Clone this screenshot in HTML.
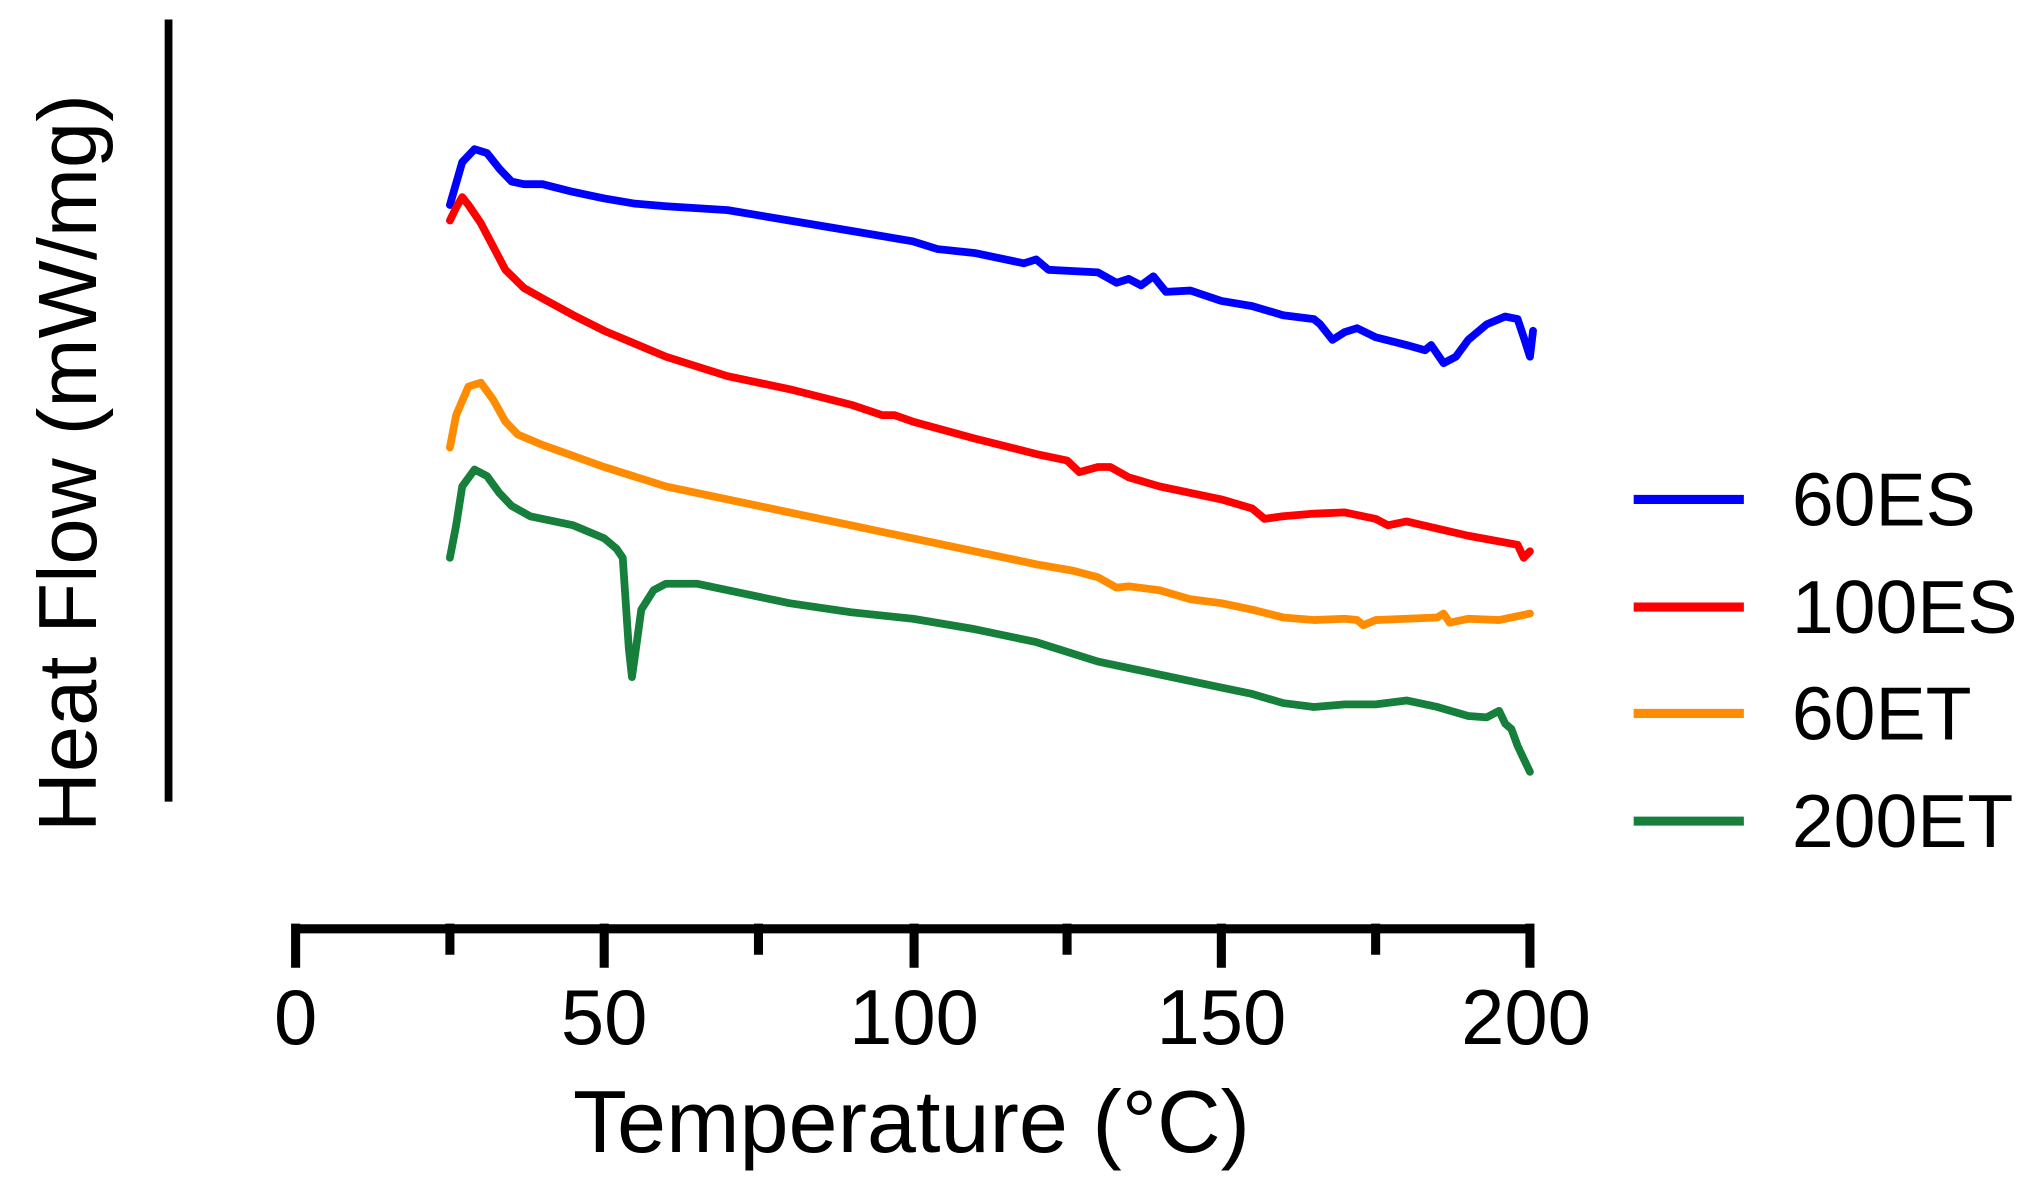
<!DOCTYPE html>
<html><head><meta charset="utf-8"><style>
html,body{margin:0;padding:0;background:#fff;}
svg{display:block;}
text{font-family:"Liberation Sans",Arial,sans-serif;fill:#000;}
</style></head><body>
<svg width="2033" height="1196" viewBox="0 0 1568 922" preserveAspectRatio="none" xmlns="http://www.w3.org/2000/svg">
<rect width="1568" height="922" fill="#fff"/>
<line x1="130" y1="15" x2="130" y2="618" stroke="#000" stroke-width="6"/>
<line x1="228" y1="716" x2="1180" y2="716" stroke="#000" stroke-width="7"/>
<g stroke="#000" stroke-width="7">
<line x1="228" y1="712" x2="228" y2="746"/><line x1="466" y1="712" x2="466" y2="746"/><line x1="705" y1="712" x2="705" y2="746"/><line x1="942" y1="712" x2="942" y2="746"/><line x1="1180" y1="712" x2="1180" y2="746"/>
<line x1="347" y1="712" x2="347" y2="736"/><line x1="585" y1="712" x2="585" y2="736"/><line x1="823" y1="712" x2="823" y2="736"/><line x1="1061" y1="712" x2="1061" y2="736"/>
</g>
<g font-size="60" text-anchor="middle">
<text x="228" y="805">0</text><text x="466" y="805">50</text><text x="705" y="805">100</text><text x="942" y="805">150</text><text x="1177" y="805">200</text>
</g>
<text x="703" y="888" font-size="68" text-anchor="middle">Temperature (°C)</text>
<text transform="translate(74,357) rotate(-90)" font-size="64" text-anchor="middle">Heat Flow (mW/mg)</text>
<g fill="none" stroke-width="6" stroke-linejoin="round" stroke-linecap="round" id="series"></g>
<g stroke-width="7">
<line x1="1260" y1="385" x2="1345" y2="385" stroke="#0000ff"/>
<line x1="1260" y1="468" x2="1345" y2="468" stroke="#ff0000"/>
<line x1="1260" y1="550" x2="1345" y2="550" stroke="#ff8c00"/>
<line x1="1260" y1="633" x2="1345" y2="633" stroke="#157f3b"/>
</g>
<g font-size="58">
<text x="1382" y="405">60ES</text><text x="1382" y="488">100ES</text><text x="1382" y="570">60ET</text><text x="1382" y="653">200ET</text>
</g>
</svg>
<script>
const D={
"#0000ff":[[25,158],[27,125],[29,115],[31,118],[33,130],[35,140],[37,142],[40,142],[45,148],[50,153],[55,157],[60,159],[70,162],[80,170],[90,178],[100,186],[104,192],[110,195],[118,203],[120,200],[122,208],[130,210],[133,218],[135,215],[137,220],[139,213],[141,225],[145,224],[150,232],[155,236],[160,243],[165,246],[166,250],[168,262],[170,256],[172,253],[175,260],[180,266],[183,270],[184,266],[186,280],[188,275],[190,262],[193,250],[196,244],[198,246],[199,260],[200,275],[200.5,255]],
"#ff0000":[[25,170],[26,160],[27,152],[28,158],[30,172],[32,190],[34,208],[37,222],[40,230],[45,243],[50,255],[55,265],[60,275],[70,290],[80,300],[90,312],[95,320],[97,320],[100,325],[110,338],[120,350],[125,355],[127,364],[130,360],[132,360],[135,368],[140,375],[150,385],[155,392],[157,400],[160,398],[165,396],[170,395],[175,400],[177,405],[180,402],[190,413],[198,420],[199,430],[200,425]],
"#ff8c00":[[25,345],[26,320],[28,298],[30,295],[32,308],[34,325],[36,335],[40,343],[50,360],[60,375],[70,385],[80,395],[90,405],[100,415],[110,425],[120,435],[126,440],[130,445],[133,453],[135,452],[140,455],[145,462],[150,465],[155,470],[160,476],[165,478],[170,477],[172,478],[173,482],[175,478],[180,477],[185,476],[186,473],[187,480],[190,477],[195,478],[200,473]],
"#157f3b":[[25,430],[26,405],[27,375],[29,362],[31,367],[33,380],[35,390],[38,398],[45,405],[50,415],[52,423],[53,430],[54,500],[54.5,522],[55,505],[56,470],[58,455],[60,450],[65,450],[70,455],[80,465],[90,472],[100,477],[110,485],[120,495],[130,510],[140,520],[150,530],[155,535],[160,542],[165,545],[170,543],[175,543],[180,540],[185,545],[190,552],[193,553],[195,548],[196,558],[197,562],[198,575],[199,585],[200,595]]};
const g=document.getElementById('series');
for(const c in D){const p=document.createElementNS('http://www.w3.org/2000/svg','path');
p.setAttribute('d','M'+D[c].map(a=>(228+a[0]*4.76).toFixed(1)+','+a[1]).join(' L'));
p.setAttribute('stroke',c);g.appendChild(p);}
</script>
</body></html>
